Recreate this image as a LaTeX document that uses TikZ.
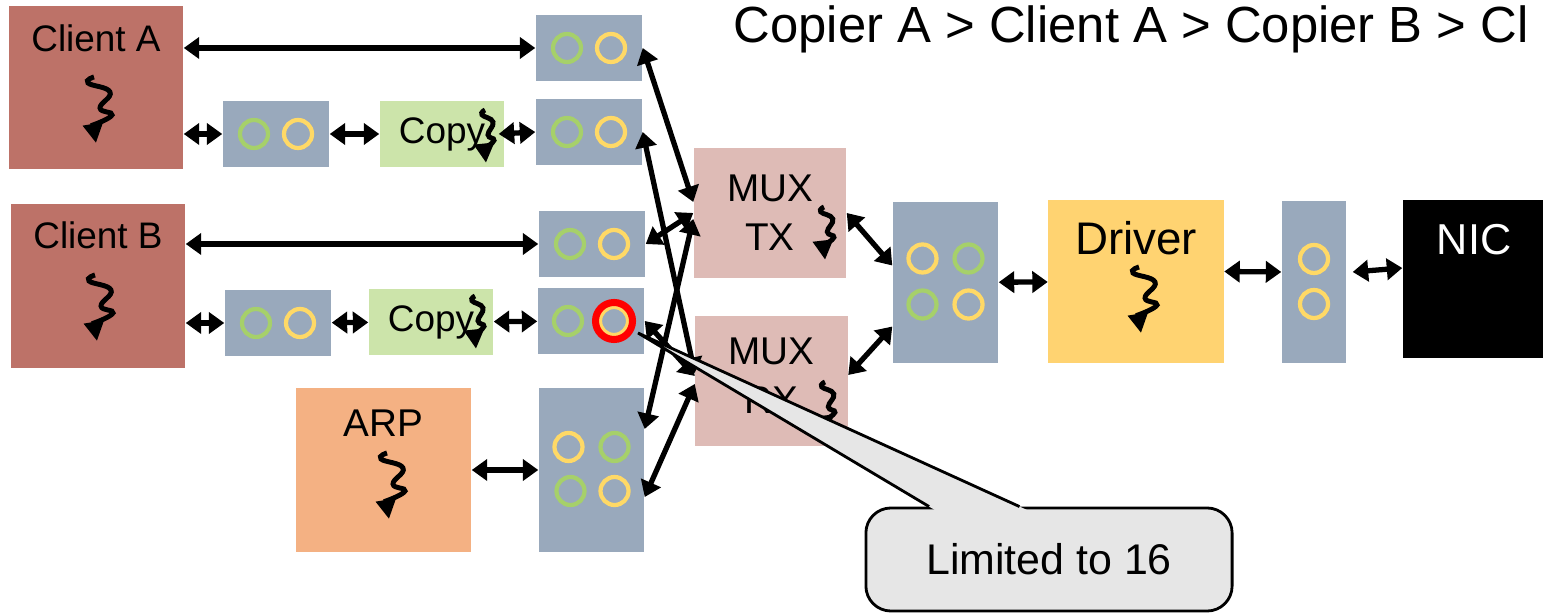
\documentclass[tikz,border=0pt]{standalone}
\usepackage{fontspec}
\setmainfont{Liberation Sans}
\usepackage{tikz}
\usetikzlibrary{positioning,arrows.meta,calc}
\definecolor{clientred}{HTML}{BD7268}
\definecolor{queueblue}{HTML}{99A9BC}
\definecolor{copygreen}{HTML}{CCE4AA}
\definecolor{muxpink}{HTML}{DEBBB6}
\definecolor{arporange}{HTML}{F4B183}
\definecolor{driveryellow}{HTML}{FFD371}
\definecolor{ringgreen}{HTML}{A6D06A}
\definecolor{ringyellow}{HTML}{FFD966}
\definecolor{notegray}{HTML}{E6E6E6}
\tikzset{
  thread/.pic={
    \draw[line width=1.4pt, -{Triangle[length=5.5pt,width=5.5pt]}]
      plot[smooth, tension=0.8] coordinates {(0,0) (-6,6) (16,15) (6,31) (18,38) (-1,48)} -- (2,66);
  }
}

\begin{document}
\begin{tikzpicture}[
  x=0.01cm, y=-0.01cm,
  box/.style={inner sep=0pt, font=\fontsize{11}{14}\selectfont},
  clientbox/.style={box, fill=clientred, minimum width=1.74cm, minimum height=1.63cm},
  queuebox/.style={box, fill=queueblue, minimum width=1.06cm, minimum height=0.66cm},
  copierbox/.style={box, fill=copygreen, minimum width=1.24cm, minimum height=0.66cm,
                    font=\fontsize{10.5}{12}\selectfont},
  muxbox/.style={box, fill=muxpink, minimum width=1.52cm, minimum height=1.30cm, align=center},
  boxlabel/.style={inner sep=0pt, anchor=base},
  gring/.style={draw=ringgreen, line width=1.2pt},
  yring/.style={draw=ringyellow, line width=1.2pt},
  biarrow/.style={{Triangle[length=4.4pt,width=6pt]}-{Triangle[length=4.4pt,width=6pt]},
                  line width=1.5pt},
  notebox/.style={draw, fill=notegray, line width=0.8pt, rounded corners=0.25cm,
                  minimum width=3.66cm, minimum height=1.03cm, font=\fontsize{12.2}{14}\selectfont}
]
\useasboundingbox (0,0) rectangle (1543,613);
\clip (0,0) rectangle (1543,613);

% Priority order
\node[anchor=base west, inner sep=0pt, font=\fontsize{14.45}{18}\selectfont]
  (order) at (733,43) {Copier A > Client A > Copier B > Cl};

% Clients
\node[clientbox] (clienta) at (96,87.5) {};
\node[boxlabel, font=\fontsize{10.5}{12}\selectfont] (clientaname)
  at ([yshift=-0.46cm]clienta.north) {Client A};
\pic at (94,77) {thread};
\node[clientbox] (clientb) at (98,286) {};
\node[boxlabel, font=\fontsize{10.5}{12}\selectfont] (clientbname)
  at ([yshift=-0.45cm]clientb.north) {Client B};
\pic at (95,275) {thread};

% Copiers
\node[queuebox] (qa2) at (276,134) {};
\node[copierbox] (copya) at (442,134) {Copy};
\pic[xscale=0.5, yscale=0.8] at (485,110) {thread};
\node[queuebox] (qb2) at (278,323) {};
\node[copierbox] (copyb) at (431,322) {Copy};
\pic[xscale=0.5, yscale=0.8] at (475,296) {thread};

% Queues towards the muxes
\node[queuebox] (qa1) at (589,48) {};
\node[queuebox] (qa3) at (589,132) {};
\node[queuebox] (qb1) at (592,244) {};
\node[queuebox] (qb3) at (591,321) {};

% ARP
\node[clientbox, fill=arporange, minimum width=1.75cm, minimum height=1.64cm] (arp) at (383.5,470) {};
\node[boxlabel, font=\fontsize{11}{13}\selectfont] (arpname) at ([yshift=-0.49cm]arp.north) {ARP};
\pic at (387,453) {thread};
\node[queuebox, minimum width=1.05cm, minimum height=1.64cm] (arpq) at (591.5,470) {};

% Muxes
\node[muxbox] (muxtx) at (770,213) {MUX\\TX};
\pic[xscale=0.55, yscale=0.8] at (824,207) {thread};
\node[muxbox, text depth=0.1cm] (muxrx) at (771.5,381) {MUX\\RX};
\pic[xscale=0.55, yscale=0.8] at (825,382) {thread};

% Driver and NIC
\node[queuebox, minimum width=1.05cm, minimum height=1.61cm] (cq) at (945.5,282.5) {};
\node[box, fill=driveryellow, minimum width=1.75cm, minimum height=1.63cm] (driver) at (1136,281.5) {};
\node[boxlabel, font=\fontsize{13}{15}\selectfont] (drivername) at ([yshift=-0.55cm]driver.north) {Driver};
\pic at (1139,267) {thread};
\node[queuebox, minimum width=0.64cm, minimum height=1.62cm] (rq) at (1314,282) {};
\node[box, fill=black, minimum width=1.42cm, minimum height=1.58cm] (nic) at (1474,279) {};
\node[boxlabel, text=white, font=\fontsize{12.3}{14}\selectfont] (nicname)
  at ([yshift=-0.55cm]nic.north) {NIC};

% Slots
\draw[gring] ([xshift=-0.22cm]qa1.center) circle[radius=0.14cm];
\draw[yring] ([xshift=0.22cm]qa1.center) circle[radius=0.14cm];
\draw[gring] ([xshift=-0.22cm]qa2.center) circle[radius=0.14cm];
\draw[yring] ([xshift=0.22cm]qa2.center) circle[radius=0.14cm];
\draw[gring] ([xshift=-0.22cm]qa3.center) circle[radius=0.14cm];
\draw[yring] ([xshift=0.22cm]qa3.center) circle[radius=0.14cm];
\draw[gring] ([xshift=-0.22cm]qb1.center) circle[radius=0.14cm];
\draw[yring] ([xshift=0.22cm]qb1.center) circle[radius=0.14cm];
\draw[gring] ([xshift=-0.22cm]qb2.center) circle[radius=0.14cm];
\draw[yring] ([xshift=0.22cm]qb2.center) circle[radius=0.14cm];
\draw[gring] ([xshift=-0.23cm]qb3.center) circle[radius=0.14cm];
\draw[yring] ([xshift=0.23cm]qb3.center) circle[radius=0.14cm];
\draw[yring] ([shift={(-0.23cm,0.23cm)}]arpq.center) circle[radius=0.14cm];
\draw[gring] ([shift={(0.23cm,0.23cm)}]arpq.center) circle[radius=0.14cm];
\draw[gring] ([shift={(-0.21cm,-0.21cm)}]arpq.center) circle[radius=0.14cm];
\draw[yring] ([shift={(0.23cm,-0.21cm)}]arpq.center) circle[radius=0.14cm];
\draw[yring] ([shift={(-0.23cm,0.24cm)}]cq.center) circle[radius=0.14cm];
\draw[gring] ([shift={(0.23cm,0.24cm)}]cq.center) circle[radius=0.14cm];
\draw[gring] ([shift={(-0.23cm,-0.22cm)}]cq.center) circle[radius=0.14cm];
\draw[yring] ([shift={(0.23cm,-0.22cm)}]cq.center) circle[radius=0.14cm];
\draw[yring] ([yshift=0.23cm]rq.center) circle[radius=0.14cm];
\draw[yring] ([yshift=-0.22cm]rq.center) circle[radius=0.14cm];
\draw[red, line width=2pt] ([xshift=0.23cm]qb3.center) circle[radius=0.185cm];

% Arrows
\draw[biarrow] (clienta.east |- qa1.west) -- (qa1.west);
\draw[biarrow] (clienta.east |- qa2.west) -- (qa2.west);
\draw[biarrow] (qa2) -- (copya);
\draw[biarrow] ([xshift=-0.06cm]copya.east) -- (qa3.west);
\draw[biarrow] (clientb.east |- qb1.west) -- (qb1.west);
\draw[biarrow] (clientb.east |- qb2.west) -- (qb2.west);
\draw[biarrow] (qb2) -- (copyb);
\draw[biarrow] (copyb) -- (qb3);
\draw[biarrow] (arp) -- (arpq);
\draw[biarrow] (qa1.east) -- ([yshift=0.11cm]muxtx.west);
\draw[biarrow] (qb1.east) -- (muxtx.west);
\draw[biarrow] ([yshift=0.41cm]arpq.east) -- ([yshift=-0.06cm]muxtx.west);
\draw[biarrow] (qa3.east) -- ([yshift=0.08cm]muxrx.west);
\draw[biarrow] (qb3.east) -- ([yshift=0.05cm]muxrx.west);
\draw[biarrow] ([yshift=-0.27cm]arpq.east) -- ([yshift=-0.03cm]muxrx.west);
\draw[biarrow] (muxtx.east) -- ([yshift=0.17cm]cq.west);
\draw[biarrow] ([yshift=0.06cm]muxrx.east) -- ([yshift=-0.44cm]cq.west);
\draw[biarrow] (cq) -- (driver);
\draw[biarrow] ([yshift=0.1cm]driver.east) -- ([yshift=0.1cm]rq.west);
\draw[biarrow] ([xshift=0.06cm, yshift=0.1cm]rq.east) -- ([yshift=0.11cm]nic.west);

% Callout
\coordinate (limtip) at (638,333);
\node[notebox] (limit) at (1049,559.5) {Limited to 16};
\coordinate (wedgel) at ($(limit.north west)!0.175!(limit.north east)$);
\coordinate (wedger) at ($(limit.north west)!0.42!(limit.north east)$);
\fill[notegray] (limtip) -- ($(limtip)!1.03!(wedgel)$) -- ($(limtip)!1.03!(wedger)$) -- cycle;
\draw[line width=0.8pt] (wedgel) -- (limtip) -- (wedger);

\end{tikzpicture}
\end{document}
